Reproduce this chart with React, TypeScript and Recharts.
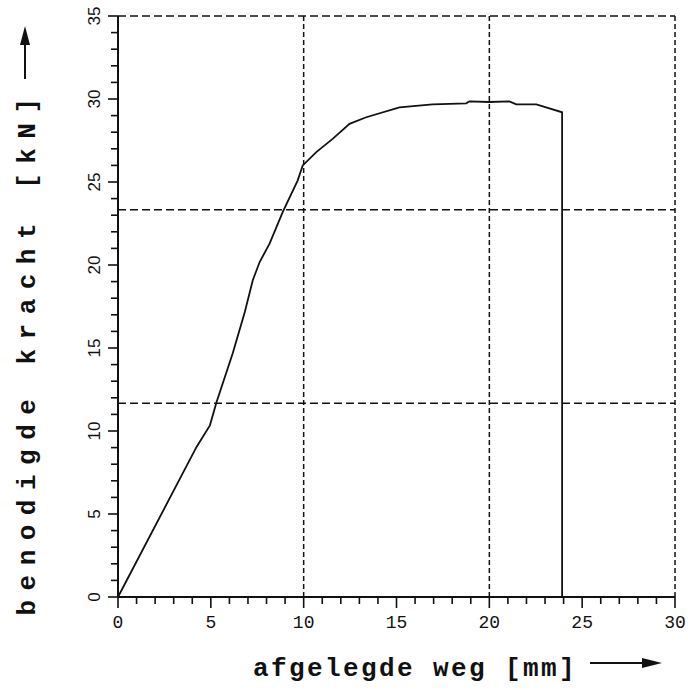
import { Label, Line, LineChart, ReferenceLine, XAxis, YAxis } from "recharts";

// curve: displacement [mm] vs. required force [kN]
const wegMm = [
  0, 4.23, 4.95, 5.31, 6.18, 6.83, 7.26, 7.63, 8.17, 8.87, 9.68, 9.95, 10.68, 11.56, 12.47, 13.37,
  15.16, 16.94, 18.76, 18.92, 20.0, 21.08, 21.45, 22.53, 23.06, 23.92, 23.92,
];
const krachtKn = [
  0, 9.04, 10.34, 11.75, 14.68, 17.17, 19.08, 20.18, 21.3, 23.19, 25.1, 26.0, 26.8, 27.6, 28.5, 28.9,
  29.5, 29.68, 29.74, 29.86, 29.82, 29.86, 29.68, 29.68, 29.5, 29.2, 0,
];

const xTicks = [
  0, 1, 2, 3, 4, 5, 6, 7, 8, 9, 10, 11, 12, 13, 14, 15, 16, 17, 18, 19, 20, 21, 22, 23, 24, 25, 26, 27, 28,
  29, 30,
];
const yTicks = [
  0, 1, 2, 3, 4, 5, 6, 7, 8, 9, 10, 11, 12, 13, 14, 15, 16, 17, 18, 19, 20, 21, 22, 23, 24, 25, 26, 27, 28,
  29, 30, 31, 32, 33, 34, 35,
];
// dashed grid: x at 10/20/30, y splits 0..35 in three
const gridX = [10, 20, 30];
const gridY = [11.67, 23.33, 35];

const X_TITLE = "afgelegde weg [mm]";
const Y_TITLE = "benodigde kracht [kN]";

const data = wegMm.map((x, i) => ({ x, y: krachtKn[i] }));

const INK = "#111";
const MONO = "'Liberation Mono', 'DejaVu Sans Mono', monospace";

function renderXTick({ x, y, payload }: any) {
  const major = payload.value % 5 === 0;
  return (
    <g>
      <line x1={x} x2={x} y1={y} y2={y + (major ? 11 : 7)} stroke={INK} strokeWidth={1.6} />
      {major && (
        <text x={x} y={y + 31} textAnchor="middle" fontFamily={MONO} fontSize={18} fill={INK}>
          {payload.value}
        </text>
      )}
    </g>
  );
}

// y labels are turned a quarter, reading upward like in the scan
function renderYTick({ x, y, payload }: any) {
  const major = payload.value % 5 === 0;
  return (
    <g>
      <line x1={x - (major ? 10 : 7)} x2={x} y1={y} y2={y} stroke={INK} strokeWidth={1.6} />
      {major && (
        <g transform={`translate(${x - 18}, ${y}) rotate(-90)`}>
          <text
            x={0}
            y={0}
            textAnchor="middle"
            fontFamily="'Liberation Sans', Arial, sans-serif"
            fontSize={17}
            fill={INK}
          >
            {payload.value}
          </text>
        </g>
      )}
    </g>
  );
}

function renderXTitle() {
  return (
    <g>
      <text
        x={415}
        y={676}
        textAnchor="middle"
        fontFamily={MONO}
        fontWeight="bold"
        fontSize={26}
        letterSpacing={2.4}
        fill={INK}
      >
        {X_TITLE}
      </text>
      <line x1={590} x2={646} y1={663} y2={663} stroke={INK} strokeWidth={2} />
      <polygon points="662,663 642,658 642,668" fill={INK} />
    </g>
  );
}

function renderYTitle() {
  return (
    <g>
      <g transform="translate(35, 352) rotate(-90)">
        <text
          x={0}
          y={0}
          textAnchor="middle"
          fontFamily={MONO}
          fontWeight="bold"
          fontSize={26}
          letterSpacing={9.5}
          fill={INK}
        >
          {Y_TITLE}
        </text>
      </g>
      <line x1={25} x2={25} y1={79} y2={40} stroke={INK} strokeWidth={2} />
      <polygon points="25,26 20,45 30,45" fill={INK} />
    </g>
  );
}

export default function App() {
  return (
    <div style={{ position: "absolute", left: 0, top: 0, background: "#fff" }}>
      <LineChart width={688} height={690} data={data} margin={{ top: 16, right: 13, bottom: 33, left: 58 }}>
        <XAxis
          type="number"
          dataKey="x"
          domain={[0, 30]}
          ticks={xTicks}
          interval={0}
          height={60}
          tickSize={0}
          tickMargin={0}
          tick={(p: any) => renderXTick(p)}
          axisLine={{ stroke: INK, strokeWidth: 2 }}
        >
          <Label content={() => renderXTitle()} />
        </XAxis>
        <YAxis
          type="number"
          domain={[0, 35]}
          ticks={yTicks}
          interval={0}
          width={60}
          tickSize={0}
          tickMargin={0}
          tick={(p: any) => renderYTick(p)}
          axisLine={{ stroke: INK, strokeWidth: 2 }}
        >
          <Label content={() => renderYTitle()} />
        </YAxis>
        {gridX.map((v) => (
          <ReferenceLine key={`gx${v}`} x={v} stroke={INK} strokeWidth={1.5} strokeDasharray="5 3" />
        ))}
        {gridY.map((v) => (
          <ReferenceLine key={`gy${v}`} y={v} stroke={INK} strokeWidth={1.5} strokeDasharray="8 4" />
        ))}
        <Line
          type="linear"
          dataKey="y"
          stroke={INK}
          strokeWidth={1.8}
          dot={false}
          isAnimationActive={false}
        />
      </LineChart>
    </div>
  );
}
